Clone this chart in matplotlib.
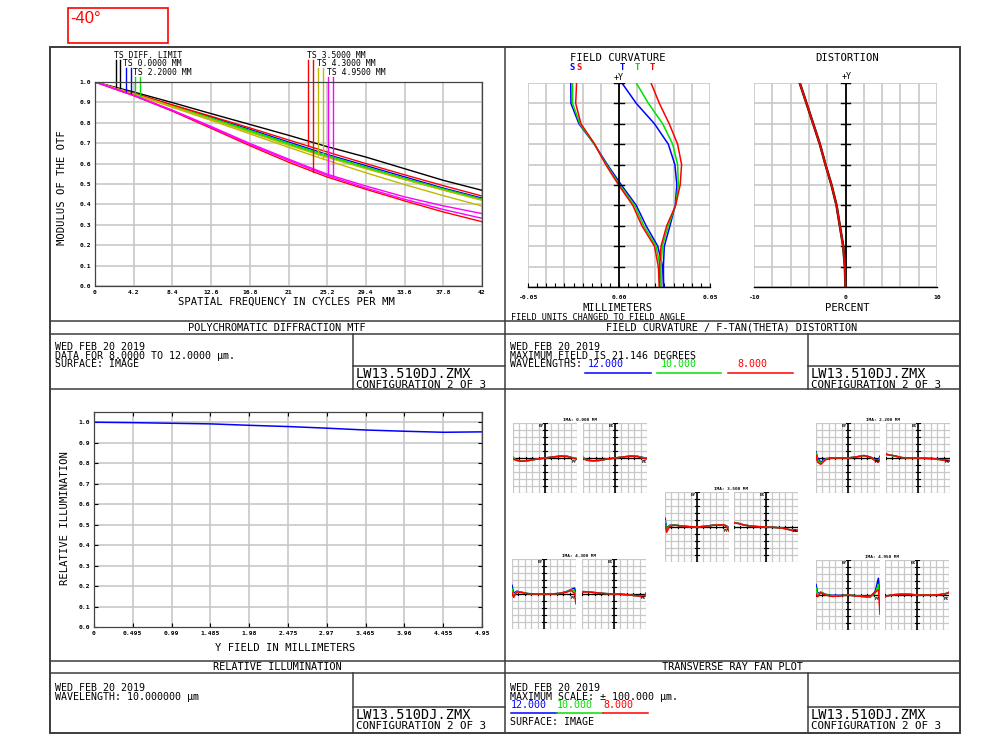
import numpy as np
import matplotlib
matplotlib.use("Agg")
import matplotlib.pyplot as plt
from matplotlib.patches import Rectangle

W, H = 1008, 748
MONO = "DejaVu Sans Mono"
plt.rcParams["font.family"] = [MONO, "DejaVu Sans"]

GRID = "#c8c8c8"
FRAME = "#3c3c3c"
BLUE, GREEN, RED = "#0000ff", "#00e000", "#ff0000"
YELLOW, MAGENTA = "#c0b800", "#ff00ff"
WAVE_COLORS = [BLUE, GREEN, RED]

# ---------------- polychromatic diffraction MTF
mtf_freq = [0, 4.2, 8.4, 12.6, 16.8, 21, 25.2, 29.4, 33.6, 37.8, 42]
mtf_freq_labels = ["0", "4.2", "8.4", "12.6", "16.8", "21", "25.2", "29.4", "33.6", "37.8", "42"]
mtf_diff = [1.0, 0.951, 0.899, 0.845, 0.792, 0.739, 0.683, 0.632, 0.575, 0.518, 0.469]
mtf_f1 = [1.0, 0.944, 0.886, 0.828, 0.768, 0.706, 0.645, 0.590, 0.535, 0.480, 0.431]
mtf_f2_t = [1.0, 0.943, 0.884, 0.824, 0.763, 0.700, 0.640, 0.583, 0.528, 0.476, 0.426]
mtf_f2_s = [1.0, 0.942, 0.882, 0.820, 0.758, 0.695, 0.634, 0.578, 0.523, 0.471, 0.422]
mtf_f3_t = [1.0, 0.945, 0.888, 0.832, 0.775, 0.716, 0.657, 0.600, 0.545, 0.492, 0.441]
mtf_f3_s = [1.0, 0.933, 0.857, 0.773, 0.688, 0.607, 0.534, 0.474, 0.417, 0.363, 0.315]
mtf_f4_t = [1.0, 0.942, 0.880, 0.818, 0.754, 0.690, 0.630, 0.575, 0.522, 0.470, 0.420]
mtf_f4_s = [1.0, 0.940, 0.876, 0.812, 0.746, 0.680, 0.616, 0.555, 0.497, 0.443, 0.392]
mtf_f5_t = [1.0, 0.935, 0.862, 0.782, 0.699, 0.622, 0.548, 0.490, 0.437, 0.393, 0.355]
mtf_f5_s = [1.0, 0.934, 0.860, 0.778, 0.694, 0.616, 0.542, 0.480, 0.425, 0.375, 0.332]
mtf_legend = ["TS DIFF. LIMIT", "TS 0.0000 MM", "TS 2.2000 MM",
              "TS 3.5000 MM", "TS 4.3000 MM", "TS 4.9500 MM"]
mtf_marker_x = [2.24, 2.71, 3.32, 3.87, 4.37, 4.92, 23.17, 23.71, 24.25, 24.79, 25.33, 25.88]

# ---------------- field curvature / distortion (field fraction 0..1)
field_frac = [0, 0.1, 0.2, 0.3, 0.4, 0.5, 0.6, 0.7, 0.8, 0.9, 1.0]
sag_blue = [0.0245, 0.0240, 0.0213, 0.0149, 0.0095, 0.0013, -0.0064, -0.0136, -0.0220, -0.0264, -0.0265]
sag_green = [0.0231, 0.0226, 0.0204, 0.0136, 0.0086, 0.0004, -0.0069, -0.0136, -0.0215, -0.0255, -0.0255]
sag_red = [0.0222, 0.0216, 0.0195, 0.0126, 0.0076, -0.0002, -0.0073, -0.0133, -0.0209, -0.0238, -0.0233]
tan_blue = [0.0245, 0.0244, 0.0249, 0.0280, 0.0309, 0.0318, 0.0307, 0.0271, 0.0195, 0.0095, 0.0016]
tan_green = [0.0231, 0.0231, 0.0238, 0.0271, 0.0311, 0.0326, 0.0322, 0.0295, 0.0240, 0.0162, 0.0095]
tan_red = [0.0222, 0.0222, 0.0231, 0.0262, 0.0311, 0.0336, 0.0344, 0.0322, 0.0276, 0.0222, 0.0176]
dist_pct = [0, -0.07, -0.25, -0.62, -0.98, -1.53, -2.19, -2.80, -3.53, -4.26, -5.00]

# ---------------- relative illumination
ri_field = [0, 0.495, 0.99, 1.485, 1.98, 2.475, 2.97, 3.465, 3.96, 4.455, 4.95]
ri_labels = ["0", "0.495", "0.99", "1.485", "1.98", "2.475", "2.97", "3.465", "3.96", "4.455", "4.95"]
ri_value = [1.0, 0.998, 0.995, 0.992, 0.985, 0.979, 0.971, 0.962, 0.956, 0.951, 0.953]

# ---------------- transverse ray fans (micrometres, [blue, green, red])
fan_pupil = [-1, -0.95, -0.85, -0.7, -0.5, -0.25, 0, 0.25, 0.5, 0.7, 0.85, 0.95, 1]
fan_titles = ["IMA: 0.000 MM", "IMA: 2.200 MM", "IMA: 3.500 MM", "IMA: 4.300 MM", "IMA: 4.950 MM"]
ey_f1 = [[2, -3, -7, -9, -7, -3, 0, 3, 6, 5, 1, -1, -2],
         [3, -3, -7, -9, -7, -3, 0, 3, 5, 5, 1, -1, -3],
         [-2, -5, -8, -9, -7, -3, 0, 3, 5, 4, 0, -2, -4]]
ex_f1 = [[2, -2, -6, -8, -7, -3, 0, 3, 6, 5, 2, 0, -1],
         [4, -2, -6, -8, -7, -3, 0, 3, 5, 5, 1, -1, -2],
         [-1, -4, -7, -8, -7, -3, 0, 3, 5, 4, 0, -2, -3]]
ey_f2 = [[18, 0, -12, -2, 0, 0, 0, 3, 7, 3, -5, -6, 5],
         [14, -5, -15, -3, 0, 0, 0, 3, 7, 2, -7, -9, 0],
         [8, -12, -18, -5, 0, 0, 0, 3, 7, 2, -8, -12, -5]]
ex_f2 = [[12, 10, 8, 5, 1, 0, 0, -1, -2, -4, -6, -7, -7],
         [11, 10, 8, 5, 1, 0, 0, -1, -2, -5, -7, -8, -8],
         [10, 9, 8, 6, 1, 0, 0, -1, -2, -5, -7, -8, -9]]
ey_f3 = [[25, -3, 5, 6, 3, 1, 0, 2, 5, 6, 6, 2, -4],
         [18, -8, 4, 6, 3, 1, 0, 2, 5, 6, 6, 0, -7],
         [10, -15, 2, 5, 3, 1, 0, 2, 5, 6, 6, -3, -12]]
ex_f3 = [[13, 11, 10, 6, 3, 1, 0, -1, -3, -7, -10, -12, -12],
         [12, 11, 10, 6, 3, 1, 0, -1, -3, -7, -11, -11, -10],
         [12, 11, 10, 6, 3, 1, 0, -1, -3, -7, -11, -11, -8]]
ey_f4 = [[25, 2, 8, 5, 1, 0, 0, 0, 2, 7, 13, 17, 5],
         [15, -3, 7, 5, 1, 0, 0, 0, 2, 6, 12, 10, -5],
         [5, -10, 6, 4, 1, 0, 0, 0, 2, 5, 10, 2, -28]]
ex_f4 = [[6, 7, 6, 5, 3, 1, 0, -1, -3, -5, -7, -7, -4],
         [5, 7, 6, 5, 3, 1, 0, -1, -3, -5, -7, -6, -2],
         [4, 6, 6, 5, 3, 1, 0, -1, -3, -5, -7, -6, 3]]
ey_f5 = [[30, 5, 8, 2, -1, -1, 0, -2, -5, -6, 10, 48, -5],
         [20, 2, 8, 1, -2, -2, 0, -2, -4, -5, 5, 30, -20],
         [3, -5, 7, 0, -4, -3, 0, -3, -4, -3, 8, 15, -55]]
ex_f5 = [[-5, -3, -1, 1, 2, 2, 0, 0, 0, 1, 3, 5, 8],
         [-6, -3, -1, 1, 2, 2, 0, 0, 0, 1, 3, 5, 7],
         [-6, -3, -1, 1, 2, 2, 0, 0, 0, 1, 3, 5, 7]]


def px_axes(fig, x0, y0, x1, y1):
    # axes from pixel box (top-left origin)
    return fig.add_axes([x0 / W, 1 - y1 / H, (x1 - x0) / W, (y1 - y0) / H])


def draw_grid(ax, xs, ys, lw=1.2):
    for x in xs:
        ax.axvline(x, color=GRID, lw=lw, zorder=0)
    for y in ys:
        ax.axhline(y, color=GRID, lw=lw, zorder=0)


fig = plt.figure(figsize=(W / 100, H / 100), dpi=100)

# ---- MTF
ax = px_axes(fig, 95, 82, 482, 286)
ax.set_xlim(0, 42)
ax.set_ylim(0, 1)
draw_grid(ax, mtf_freq, np.arange(0, 1.01, 0.1))
mtf_curves = [(mtf_diff, "k"), (mtf_f1, BLUE), (mtf_f2_t, GREEN), (mtf_f2_s, GREEN),
              (mtf_f3_t, RED), (mtf_f3_s, RED), (mtf_f4_t, YELLOW), (mtf_f4_s, YELLOW),
              (mtf_f5_t, MAGENTA), (mtf_f5_s, MAGENTA)]
for vals, col in mtf_curves:
    ax.plot(mtf_freq, vals, color=col, lw=1.0)
# legend markers: a pair (T, S) per field, dropping down to the curve
marker_curves = [mtf_diff, mtf_diff, mtf_f1, mtf_f1, mtf_f2_t, mtf_f2_s,
                 mtf_f3_t, mtf_f3_s, mtf_f4_t, mtf_f4_s, mtf_f5_t, mtf_f5_s]
marker_cols = ["k", "k", BLUE, BLUE, GREEN, GREEN, RED, RED, YELLOW, YELLOW, MAGENTA, MAGENTA]
marker_top = [1.108, 1.108, 1.069, 1.069, 1.025, 1.025] * 2
for mx, curve, col, top in zip(mtf_marker_x, marker_curves, marker_cols, marker_top):
    ax.plot([mx, mx], [top, np.interp(mx, mtf_freq, curve)], color=col, lw=1.0, clip_on=False)
ax.set_xticks(mtf_freq)
ax.set_xticklabels(mtf_freq_labels)
ax.set_yticks(np.arange(0, 1.01, 0.1))
ax.set_yticklabels(["%.1f" % v for v in np.arange(0, 1.01, 0.1)])
ax.tick_params(length=0, labelsize=4.6, pad=3)
for lab in ax.get_xticklabels() + ax.get_yticklabels():
    lab.set_fontweight("bold")
for s in ax.spines.values():
    s.set_color("#444")
    s.set_linewidth(0.9)

# ---- Field curvature
ax = px_axes(fig, 528, 83, 710, 287)
ax.set_xlim(-0.05, 0.05)
ax.set_ylim(0, 1)
draw_grid(ax, np.linspace(-0.05, 0.05, 11), field_frac)
for xs, col in zip([sag_blue, sag_green, sag_red, tan_blue, tan_green, tan_red], WAVE_COLORS * 2):
    ax.plot(xs, field_frac, color=col, lw=1.1)
ax.axvline(0, color="k", lw=1.3)
for y in field_frac[1:]:
    ax.plot([-0.0025, 0.0025], [y, y], color="k", lw=1.0)
ax.set_xticks(np.arange(-0.05, 0.0501, 0.005))
ax.set_yticks([])
ax.tick_params(axis="x", direction="in", length=3, width=0.8, labelbottom=False)
for k in ["left", "top", "right"]:
    ax.spines[k].set_visible(False)
ax.spines["bottom"].set_linewidth(1.0)

# ---- Distortion
ax = px_axes(fig, 754, 83, 937, 287)
ax.set_xlim(-10, 10)
ax.set_ylim(0, 1)
draw_grid(ax, np.linspace(-10, 10, 11), field_frac)
ax.axvline(0, color="k", lw=1.3)
for y in field_frac[1:]:
    ax.plot([-0.5, 0.5], [y, y], color="k", lw=1.0)
for col, lw in zip(WAVE_COLORS, [1.8, 1.5, 1.0]):
    ax.plot(dist_pct, field_frac, color=col if col == RED else "#502010", lw=lw)
ax.set_xticks([])
ax.set_yticks([])
for k in ["left", "top", "right"]:
    ax.spines[k].set_visible(False)
ax.spines["bottom"].set_linewidth(1.0)

# ---- Relative illumination
ax = px_axes(fig, 94, 412, 482, 627)
ax.set_xlim(0, 4.95)
ax.set_ylim(0, 1.05)
draw_grid(ax, ri_field, np.arange(0.1, 1.01, 0.1))
ax.plot(ri_field, ri_value, color=BLUE, lw=1.1)
ax.set_xticks(ri_field)
ax.set_xticklabels(ri_labels)
ax.set_yticks(np.arange(0, 1.01, 0.1))
ax.set_yticklabels(["%.1f" % v for v in np.arange(0, 1.01, 0.1)])
ax.tick_params(direction="in", length=3, width=0.8, top=True, right=True,
               labelsize=4.6, pad=3)
for lab in ax.get_xticklabels() + ax.get_yticklabels():
    lab.set_fontweight("bold")
for s in ax.spines.values():
    s.set_color("#444")
    s.set_linewidth(0.9)

# ---- Transverse ray fans
fan_pos = [(513, 583, 423), (816, 886, 423), (665, 734, 492), (512, 582, 559), (816, 885, 560)]
fan_ey = [ey_f1, ey_f2, ey_f3, ey_f4, ey_f5]
fan_ex = [ex_f1, ex_f2, ex_f3, ex_f4, ex_f5]
gx = np.linspace(-1, 1, 11)
gy = np.linspace(-100, 100, 11)
for (xl, xr, y0), title, ey, ex in zip(fan_pos, fan_titles, fan_ey, fan_ex):
    for x0, curves, ylab, xlab in [(xl, ey, "EY", "PY"), (xr, ex, "EX", "PX")]:
        a = px_axes(fig, x0, y0, x0 + 64, y0 + 70)
        a.set_xlim(-1, 1)
        a.set_ylim(-100, 100)
        draw_grid(a, gx, gy, lw=0.9)
        a.axvline(0, color="k", lw=1.2)
        a.axhline(0, color="k", lw=0.9)
        for v in gy:
            a.plot([-0.05, 0.05], [v, v], color="k", lw=0.8)
        for u in gx:
            a.plot([u, u], [-4, 4], color="k", lw=0.8)
        for c, col in zip(curves, WAVE_COLORS):
            a.plot(fan_pupil, c, color=col, lw=1.1)
        a.text(-0.04, 98, ylab, fontsize=3, ha="right", va="top", weight="bold")
        a.text(0.99, -5, xlab, fontsize=3, ha="right", va="top", weight="bold")
        a.set_xticks([])
        a.set_yticks([])
        for s in a.spines.values():
            s.set_visible(False)
    fig.text((xl + xr + 64) / 2 / W, 1 - (y0 - 3) / H, title, fontsize=3.2,
             ha="center", va="center", weight="bold")

# ---- overlay for frame lines and text
ov = fig.add_axes([0, 0, 1, 1])
ov.set_xlim(0, W)
ov.set_ylim(H, 0)
ov.axis("off")
ov.patch.set_alpha(0)


def hline(y, x0=50, x1=960):
    ov.plot([x0, x1], [y, y], color=FRAME, lw=1.1)


def vline(x, y0, y1):
    ov.plot([x, x], [y0, y1], color=FRAME, lw=1.1)


def txt(x, y, s, size=7.2, ha="left", color="k", **kw):
    ov.text(x, y, s, fontsize=size, ha=ha, va="center", color=color, **kw)


ov.add_patch(Rectangle((50, 47), 910, 686, fill=False, edgecolor=FRAME, lw=1.4))
for y in [321, 334, 389, 661, 673]:
    hline(y)
vline(505, 47, 733)
for x in [353, 808]:
    vline(x, 334, 389)
    vline(x, 673, 733)
for x0, x1 in [(353, 505), (808, 960)]:
    hline(366, x0, x1)
    hline(707, x0, x1)

# red angle box
ov.add_patch(Rectangle((68, 8), 100, 35, fill=False, edgecolor=RED, lw=1.2))
ov.text(70, 18, "-40°", fontsize=12, color=RED, va="center", ha="left",
        family=["Liberation Sans", "DejaVu Sans"])

# MTF texts
for i, s in enumerate(mtf_legend):
    txt([114, 123, 133, 307, 317, 327][i], [55, 63, 72][i % 3], s, size=5.9)
txt(62, 188, "MODULUS OF THE OTF", size=7.6, ha="center", rotation=90)
txt(286, 302, "SPATIAL FREQUENCY IN CYCLES PER MM", size=7.6, ha="center")

# field curvature texts
txt(618, 58, "FIELD CURVATURE", size=7.6, ha="center")
txt(847, 58, "DISTORTION", size=7.6, ha="center")
for x, col in [(569, BLUE), (576, RED)]:
    txt(x, 67, "S", size=6.4, color=col, weight="bold")
for x, col in [(620, BLUE), (635, GREEN), (650, RED)]:
    txt(x, 67, "T", size=6.4, color=col, weight="bold")
txt(619, 77, "+Y", size=6.0, ha="center")
txt(847, 76, "+Y", size=6.0, ha="center")
for x, s in [(528, "-0.05"), (619, "0.00"), (710, "0.05")]:
    txt(x, 297, s, size=4.6, ha="center", weight="bold")
for x, s in [(754, "-10"), (846, "0"), (937, "10")]:
    txt(x, 297, s, size=4.6, ha="center", weight="bold")
txt(618, 308, "MILLIMETERS", size=7.6, ha="center")
txt(847, 308, "PERCENT", size=7.6, ha="center")
txt(511, 317, "FIELD UNITS CHANGED TO FIELD ANGLE", size=6.1)

# relative illumination labels
txt(65, 518, "RELATIVE ILLUMINATION", size=7.6, ha="center", rotation=90)
txt(285, 648, "Y FIELD IN MILLIMETERS", size=7.6, ha="center")

# title bars
txt(277, 327.5, "POLYCHROMATIC DIFFRACTION MTF", size=7.4, ha="center")
txt(732, 327.5, "FIELD CURVATURE / F-TAN(THETA) DISTORTION", size=7.4, ha="center")
txt(277, 667, "RELATIVE ILLUMINATION", size=7.4, ha="center")
txt(732, 667, "TRANSVERSE RAY FAN PLOT", size=7.4, ha="center")

# info boxes
txt(55, 347, "WED FEB 20 2019")
txt(55, 355.5, "DATA FOR 8.0000 TO 12.0000 µm.")
txt(55, 364, "SURFACE: IMAGE")
txt(510, 347, "WED FEB 20 2019")
txt(510, 355.5, "MAXIMUM FIELD IS 21.146 DEGREES")
txt(510, 364, "WAVELENGTHS:")
for x, s, col, (u0, u1) in [(588, "12.000", BLUE, (585, 651)),
                            (661, "10.000", GREEN, (657, 721)),
                            (737, "8.000", RED, (728, 793))]:
    txt(x, 364, s, color=col)
    ov.plot([u0, u1], [373, 373], color=col, lw=1.1)
txt(55, 688, "WED FEB 20 2019")
txt(55, 696.5, "WAVELENGTH: 10.000000 µm")
txt(510, 688, "WED FEB 20 2019")
txt(510, 696.5, "MAXIMUM SCALE: ± 100.000 µm.")
for x, s, col, (u0, u1) in [(511, "12.000", BLUE, (511, 557)),
                            (557, "10.000", GREEN, (557, 603)),
                            (603, "8.000", RED, (603, 648))]:
    txt(x, 705, s, color=col)
    ov.plot([u0, u1], [713, 713], color=col, lw=1.1)
txt(510, 722, "SURFACE: IMAGE")
for x in [356, 811]:
    for y0 in [374, 715]:
        txt(x, y0, "LW13.510DJ.ZMX", size=9.8)
        txt(x, y0 + 11, "CONFIGURATION 2 OF 3", size=7.8)

fig.savefig("out.png", dpi=100)
